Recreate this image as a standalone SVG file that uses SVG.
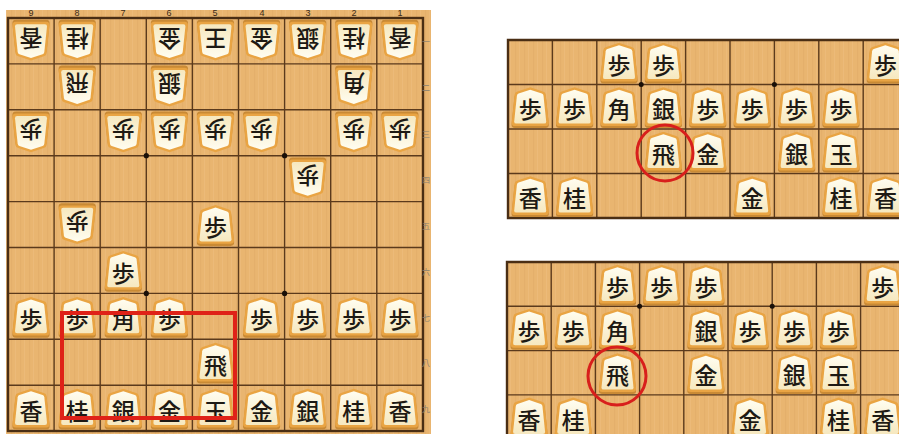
<svg xmlns="http://www.w3.org/2000/svg" xmlns:xlink="http://www.w3.org/1999/xlink" width="899" height="434" viewBox="0 0 899 434">
<style>
.wood{fill:url(#grain)}
.grid{stroke:#5b3a1c;stroke-width:1.4;fill:none}
.edge{stroke:#4a2e14;stroke-width:2.4;fill:none}
.dot{fill:#1a1008}
.k{font-family:"Noto Sans CJK JP","Noto Sans CJK SC",sans-serif;font-size:23px;font-weight:500;fill:#1e1a14;text-anchor:middle;dominant-baseline:central}
.num{font-family:"Liberation Sans",sans-serif;font-size:9px;fill:#3a2a18;text-anchor:middle}
.rk{font-family:"Noto Sans CJK JP",sans-serif;font-size:8px;fill:#8a8070;text-anchor:middle;dominant-baseline:central}
.red{fill:none;stroke:#df2218;stroke-width:4}
.redc{fill:none;stroke:#d81f1c;stroke-width:3}
</style>
<defs>
<pattern id="grain" width="9" height="10" patternUnits="userSpaceOnUse">
<rect width="9" height="10" fill="#e9b570"/>
<rect x="2" width="1.2" height="10" fill="#e3ad69" opacity="0.7"/>
<rect x="6" width="0.8" height="10" fill="#eebf80" opacity="0.7"/>
</pattern>
<linearGradient id="face" x1="0" y1="0" x2="0" y2="1">
<stop offset="0" stop-color="#fffdf0"/>
<stop offset="1" stop-color="#f6e8bf"/>
</linearGradient>
<g id="p">
<path d="M0,-17.5 L12.8,-13.5 Q15.3,-12.8 15.6,-10.5 L18.6,17.5 Q18.9,21.3 15.2,21.3 L-15.2,21.3 Q-18.9,21.3 -18.6,17.5 L-15.6,-10.5 Q-15.3,-12.8 -12.8,-13.5 Z" fill="#c98a35"/>
<path d="M0,-19.5 L12.8,-15.3 Q15.3,-14.6 15.6,-12.3 L18.5,15.6 Q18.8,19.2 15.2,19.2 L-15.2,19.2 Q-18.8,19.2 -18.5,15.6 L-15.6,-12.3 Q-15.3,-14.6 -12.8,-15.3 Z" fill="#e9a443"/>
<path d="M0,-17 L11.6,-13.2 Q13.1,-12.7 13.3,-11 L16,14.6 Q16.2,16.8 13.9,16.8 L-13.9,16.8 Q-16.2,16.8 -16,14.6 L-13.3,-11 Q-13.1,-12.7 -11.6,-13.2 Z" fill="url(#face)"/>
</g>
</defs>

<g id="board-left">
<rect x="6" y="10" width="425" height="424" class="wood"/>
<g id="left-grid">
<path class="grid" d="M54.1,18V431M100.2,18V431M146.3,18V431M192.4,18V431M238.5,18V431M284.6,18V431M330.7,18V431M376.8,18V431M8,63.9H423M8,109.8H423M8,155.7H423M8,201.6H423M8,247.5H423M8,293.4H423M8,339.3H423M8,385.2H423"/>
<rect class="edge" x="8" y="18" width="415" height="413"/>
<circle class="dot" cx="146.3" cy="155.7" r="2.6"/>
<circle class="dot" cx="284.6" cy="155.7" r="2.6"/>
<circle class="dot" cx="146.3" cy="293.4" r="2.6"/>
<circle class="dot" cx="284.6" cy="293.4" r="2.6"/>
</g>
<g id="left-labels">
<text class="num" x="31" y="16">9</text><text class="num" x="77" y="16">8</text><text class="num" x="123" y="16">7</text><text class="num" x="169" y="16">6</text><text class="num" x="215" y="16">5</text><text class="num" x="262" y="16">4</text><text class="num" x="308" y="16">3</text><text class="num" x="354" y="16">2</text><text class="num" x="400" y="16">1</text>
<text class="rk" x="426" y="41">一</text><text class="rk" x="426" y="87">二</text><text class="rk" x="426" y="133">三</text><text class="rk" x="426" y="179">四</text><text class="rk" x="426" y="225">五</text><text class="rk" x="426" y="271">六</text><text class="rk" x="426" y="317">七</text><text class="rk" x="426" y="362">八</text><text class="rk" x="426" y="408">九</text>
</g>
<g id="left-pieces">
<g transform="translate(31,41) rotate(180)"><use href="#p"/><text class="k" y="1.5">香</text></g>
<g transform="translate(77.2,41) rotate(180)"><use href="#p"/><text class="k" y="1.5">桂</text></g>
<g transform="translate(169.4,41) rotate(180)"><use href="#p"/><text class="k" y="1.5">金</text></g>
<g transform="translate(215.5,41) rotate(180)"><use href="#p"/><text class="k" y="1.5">王</text></g>
<g transform="translate(261.6,41) rotate(180)"><use href="#p"/><text class="k" y="1.5">金</text></g>
<g transform="translate(307.7,41) rotate(180)"><use href="#p"/><text class="k" y="1.5">銀</text></g>
<g transform="translate(353.8,41) rotate(180)"><use href="#p"/><text class="k" y="1.5">桂</text></g>
<g transform="translate(399.9,41) rotate(180)"><use href="#p"/><text class="k" y="1.5">香</text></g>
<g transform="translate(77.2,86.9) rotate(180)"><use href="#p"/><text class="k" y="1.5">飛</text></g>
<g transform="translate(169.4,86.9) rotate(180)"><use href="#p"/><text class="k" y="1.5">銀</text></g>
<g transform="translate(353.8,86.9) rotate(180)"><use href="#p"/><text class="k" y="1.5">角</text></g>
<g transform="translate(31,132.8) rotate(180)"><use href="#p"/><text class="k" y="1.5">歩</text></g>
<g transform="translate(123.3,132.8) rotate(180)"><use href="#p"/><text class="k" y="1.5">歩</text></g>
<g transform="translate(169.4,132.8) rotate(180)"><use href="#p"/><text class="k" y="1.5">歩</text></g>
<g transform="translate(215.5,132.8) rotate(180)"><use href="#p"/><text class="k" y="1.5">歩</text></g>
<g transform="translate(261.6,132.8) rotate(180)"><use href="#p"/><text class="k" y="1.5">歩</text></g>
<g transform="translate(353.8,132.8) rotate(180)"><use href="#p"/><text class="k" y="1.5">歩</text></g>
<g transform="translate(399.9,132.8) rotate(180)"><use href="#p"/><text class="k" y="1.5">歩</text></g>
<g transform="translate(307.7,178.7) rotate(180)"><use href="#p"/><text class="k" y="1.5">歩</text></g>
<g transform="translate(77.2,224.6) rotate(180)"><use href="#p"/><text class="k" y="1.5">歩</text></g>
<g transform="translate(215.5,224.6)"><use href="#p"/><text class="k" y="1.5">歩</text></g>
<g transform="translate(123.3,270.5)"><use href="#p"/><text class="k" y="1.5">歩</text></g>
<g transform="translate(31,316.4)"><use href="#p"/><text class="k" y="1.5">歩</text></g>
<g transform="translate(77.2,316.4)"><use href="#p"/><text class="k" y="1.5">歩</text></g>
<g transform="translate(123.3,316.4)"><use href="#p"/><text class="k" y="1.5">角</text></g>
<g transform="translate(169.4,316.4)"><use href="#p"/><text class="k" y="1.5">歩</text></g>
<g transform="translate(261.6,316.4)"><use href="#p"/><text class="k" y="1.5">歩</text></g>
<g transform="translate(307.7,316.4)"><use href="#p"/><text class="k" y="1.5">歩</text></g>
<g transform="translate(353.8,316.4)"><use href="#p"/><text class="k" y="1.5">歩</text></g>
<g transform="translate(399.9,316.4)"><use href="#p"/><text class="k" y="1.5">歩</text></g>
<g transform="translate(215.5,362.3)"><use href="#p"/><text class="k" y="1.5">飛</text></g>
<g transform="translate(31,408.2)"><use href="#p"/><text class="k" y="1.5">香</text></g>
<g transform="translate(77.2,408.2)"><use href="#p"/><text class="k" y="1.5">桂</text></g>
<g transform="translate(123.3,408.2)"><use href="#p"/><text class="k" y="1.5">銀</text></g>
<g transform="translate(169.4,408.2)"><use href="#p"/><text class="k" y="1.5">金</text></g>
<g transform="translate(215.5,408.2)"><use href="#p"/><text class="k" y="1.5">玉</text></g>
<g transform="translate(261.6,408.2)"><use href="#p"/><text class="k" y="1.5">金</text></g>
<g transform="translate(307.7,408.2)"><use href="#p"/><text class="k" y="1.5">銀</text></g>
<g transform="translate(353.8,408.2)"><use href="#p"/><text class="k" y="1.5">桂</text></g>
<g transform="translate(399.9,408.2)"><use href="#p"/><text class="k" y="1.5">香</text></g>
</g>
<rect id="red-box" class="red" x="62" y="313" width="173" height="105"/>
</g>

<g id="board-top-right">
<rect x="507" y="40" width="392" height="179" class="wood"/>
<path class="grid" d="M552.4,40V218M596.8,40V218M641.2,40V218M685.6,40V218M730,40V218M774.4,40V218M818.8,40V218M863.2,40V218M508,84.5H899M508,129H899M508,173.5H899"/>
<path class="edge" d="M899,40H508V218H899"/>
<circle class="dot" cx="641.2" cy="84.5" r="2.5"/>
<circle class="dot" cx="774.4" cy="84.5" r="2.5"/>
<g id="top-right-pieces">
<g transform="translate(619,62.3)"><use href="#p"/><text class="k" y="1.5">歩</text></g>
<g transform="translate(663.4,62.3)"><use href="#p"/><text class="k" y="1.5">歩</text></g>
<g transform="translate(885.4,62.3)"><use href="#p"/><text class="k" y="1.5">歩</text></g>
<g transform="translate(530.2,106.8)"><use href="#p"/><text class="k" y="1.5">歩</text></g>
<g transform="translate(574.6,106.8)"><use href="#p"/><text class="k" y="1.5">歩</text></g>
<g transform="translate(619,106.8)"><use href="#p"/><text class="k" y="1.5">角</text></g>
<g transform="translate(663.4,106.8)"><use href="#p"/><text class="k" y="1.5">銀</text></g>
<g transform="translate(707.8,106.8)"><use href="#p"/><text class="k" y="1.5">歩</text></g>
<g transform="translate(752.2,106.8)"><use href="#p"/><text class="k" y="1.5">歩</text></g>
<g transform="translate(796.6,106.8)"><use href="#p"/><text class="k" y="1.5">歩</text></g>
<g transform="translate(841,106.8)"><use href="#p"/><text class="k" y="1.5">歩</text></g>
<g transform="translate(663.4,151.3)"><use href="#p"/><text class="k" y="1.5">飛</text></g>
<g transform="translate(707.8,151.3)"><use href="#p"/><text class="k" y="1.5">金</text></g>
<g transform="translate(796.6,151.3)"><use href="#p"/><text class="k" y="1.5">銀</text></g>
<g transform="translate(841,151.3)"><use href="#p"/><text class="k" y="1.5">玉</text></g>
<g transform="translate(530.2,195.8)"><use href="#p"/><text class="k" y="1.5">香</text></g>
<g transform="translate(574.6,195.8)"><use href="#p"/><text class="k" y="1.5">桂</text></g>
<g transform="translate(752.2,195.8)"><use href="#p"/><text class="k" y="1.5">金</text></g>
<g transform="translate(841,195.8)"><use href="#p"/><text class="k" y="1.5">桂</text></g>
<g transform="translate(885.4,195.8)"><use href="#p"/><text class="k" y="1.5">香</text></g>
</g>
<circle id="circle-top" class="redc" cx="665" cy="153" r="28"/>
</g>

<g id="board-bottom-right">
<rect x="506" y="261" width="393" height="173" class="wood"/>
<path class="grid" d="M551.2,262V434M595.4,262V434M639.6,262V434M683.8,262V434M728,262V434M772.2,262V434M816.4,262V434M860.6,262V434M507,306.3H899M507,350.6H899M507,394.9H899"/>
<path class="edge" d="M899,262H507V434"/>
<circle class="dot" cx="639.6" cy="306.3" r="2.5"/>
<circle class="dot" cx="772.2" cy="306.3" r="2.5"/>
<g id="bottom-right-pieces">
<g transform="translate(617.5,284.2)"><use href="#p"/><text class="k" y="1.5">歩</text></g>
<g transform="translate(661.7,284.2)"><use href="#p"/><text class="k" y="1.5">歩</text></g>
<g transform="translate(705.9,284.2)"><use href="#p"/><text class="k" y="1.5">歩</text></g>
<g transform="translate(882.7,284.2)"><use href="#p"/><text class="k" y="1.5">歩</text></g>
<g transform="translate(529.1,328.5)"><use href="#p"/><text class="k" y="1.5">歩</text></g>
<g transform="translate(573.3,328.5)"><use href="#p"/><text class="k" y="1.5">歩</text></g>
<g transform="translate(617.5,328.5)"><use href="#p"/><text class="k" y="1.5">角</text></g>
<g transform="translate(705.9,328.5)"><use href="#p"/><text class="k" y="1.5">銀</text></g>
<g transform="translate(750.1,328.5)"><use href="#p"/><text class="k" y="1.5">歩</text></g>
<g transform="translate(794.3,328.5)"><use href="#p"/><text class="k" y="1.5">歩</text></g>
<g transform="translate(838.5,328.5)"><use href="#p"/><text class="k" y="1.5">歩</text></g>
<g transform="translate(617.5,372.8)"><use href="#p"/><text class="k" y="1.5">飛</text></g>
<g transform="translate(705.9,372.8)"><use href="#p"/><text class="k" y="1.5">金</text></g>
<g transform="translate(794.3,372.8)"><use href="#p"/><text class="k" y="1.5">銀</text></g>
<g transform="translate(838.5,372.8)"><use href="#p"/><text class="k" y="1.5">玉</text></g>
<g transform="translate(529.1,417.1)"><use href="#p"/><text class="k" y="1.5">香</text></g>
<g transform="translate(573.3,417.1)"><use href="#p"/><text class="k" y="1.5">桂</text></g>
<g transform="translate(750.1,417.1)"><use href="#p"/><text class="k" y="1.5">金</text></g>
<g transform="translate(838.5,417.1)"><use href="#p"/><text class="k" y="1.5">桂</text></g>
<g transform="translate(882.7,417.1)"><use href="#p"/><text class="k" y="1.5">香</text></g>
</g>
<circle id="circle-bottom" class="redc" cx="617" cy="376" r="29"/>
</g>
</svg>
